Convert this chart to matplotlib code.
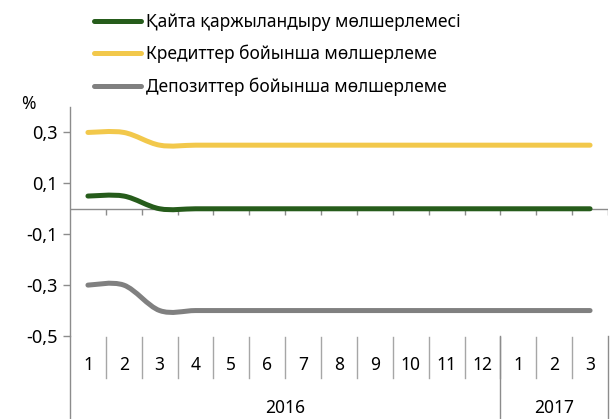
import numpy as np
from matplotlib import pyplot as plt
from matplotlib.path import Path
from matplotlib.patches import PathPatch
from matplotlib.lines import Line2D

plt.rcParams['font.family'] = ['Noto Sans', 'DejaVu Sans']

months = ['1', '2', '3', '4', '5', '6', '7', '8', '9', '10', '11', '12', '1', '2', '3']
years = ['2016', '2017']
year_counts = [12, 3]

refin = [0.05, 0.05, 0.0, 0.0, 0.0, 0.0, 0.0, 0.0, 0.0, 0.0, 0.0, 0.0, 0.0, 0.0, 0.0]
credit = [0.30, 0.30, 0.25, 0.25, 0.25, 0.25, 0.25, 0.25, 0.25, 0.25, 0.25, 0.25, 0.25, 0.25, 0.25]
deposit = [-0.30, -0.30, -0.40, -0.40, -0.40, -0.40, -0.40, -0.40, -0.40, -0.40, -0.40, -0.40, -0.40, -0.40, -0.40]

labels = ['Қайта қаржыландыру мөлшерлемесі', 'Кредиттер бойынша мөлшерлеме', 'Депозиттер бойынша мөлшерлеме']
colors = ['#265c1b', '#f2c84b', '#808080']

yticks = [0.3, 0.1, -0.1, -0.3, -0.5]
ytick_labels = ['0,3', '0,1', '-0,1', '-0,3', '-0,5']

AXIS = '#8c8c8c'
LW = 3.6


def smooth_path(y):
    # excel-like smoothed line: catmull-rom segments as cubic bezier
    x = np.arange(len(y), dtype=float)
    pts = np.column_stack([x, np.asarray(y, dtype=float)])
    padded = np.vstack([pts[0], pts, pts[-1]])
    verts = [pts[0]]
    codes = [Path.MOVETO]
    for i in range(len(pts) - 1):
        p0, p1, p2, p3 = padded[i], padded[i + 1], padded[i + 2], padded[i + 3]
        verts += [p1 + (p2 - p0) / 6, p2 - (p3 - p1) / 6, p2]
        codes += [Path.CURVE4] * 3
    return Path(verts, codes)


def main():
    fig = plt.figure(figsize=(6.12, 4.19), dpi=100)
    ax = fig.add_axes([70 / 612, 1 - 336 / 419, 538 / 612, 229 / 419])
    n = len(months)
    ax.set_xlim(-0.5, n - 0.5)
    ax.set_ylim(-0.5, 0.4)

    for s in ['top', 'right', 'bottom']:
        ax.spines[s].set_visible(False)
    ax.spines['left'].set_color(AXIS)
    ax.spines['left'].set_linewidth(1)

    ax.set_yticks(yticks)
    ax.set_yticklabels(ytick_labels, fontsize=13)
    ax.tick_params(axis='y', length=5, width=1, color=AXIS, pad=4)
    ax.set_xticks([])

    # zero line with category ticks
    bounds = np.arange(n + 1) - 0.5
    ax.axhline(0, color=AXIS, lw=1, zorder=1)
    ax.vlines(bounds[1:], -0.024, 0, color=AXIS, lw=1, zorder=1)

    for y, c in zip([refin, credit, deposit], colors):
        ax.add_patch(PathPatch(smooth_path(y), facecolor='none', edgecolor=c,
                               lw=LW, capstyle='round', joinstyle='round', zorder=3))

    # category table below
    tr = ax.get_xaxis_transform()
    for b in bounds[1:-1]:
        ax.plot([b, b], [-0.004, -0.183], color='#a6a6a6', lw=1, transform=tr, clip_on=False)
    for i, m in enumerate(months):
        ax.text(i, -0.127, m, transform=tr, ha='center', va='center', fontsize=12.5)
    start = 0
    ybounds = [bounds[0]]
    for yr, cnt in zip(years, year_counts):
        ax.text(start + (cnt - 1) / 2, -0.315, yr, transform=tr, ha='center', va='center', fontsize=12.5)
        start += cnt
        ybounds.append(bounds[start])
    for b in ybounds:
        ax.plot([b, b], [0, -0.37], color=AXIS, lw=1, transform=tr, clip_on=False)

    fig.text(21 / 612, 1 - 104 / 419, '%', fontsize=12.5, fontweight='bold', va='center')

    handles = [Line2D([], [], color=c, lw=LW, solid_capstyle='round') for c in colors]
    fig.legend(handles, labels, loc='upper left', bbox_to_anchor=(87 / 612, 1 - 6 / 419),
               frameon=False, fontsize=12.5, handlelength=2.7, handletextpad=0.3,
               labelspacing=0.8, borderaxespad=0)

    plt.savefig('out.png', dpi=100)
    plt.close()


if __name__ == '__main__':
    main()
